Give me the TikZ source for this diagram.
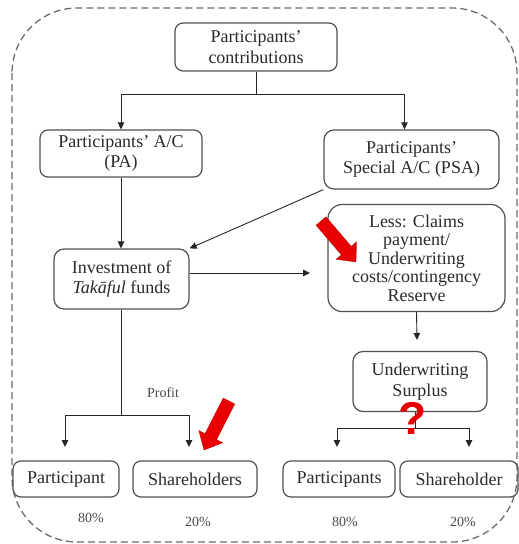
\documentclass[tikz,border=0pt]{standalone}
\usepackage{fontspec}
\setmainfont{Liberation Serif}
\newfontfamily\qfont{Liberation Sans}
\usetikzlibrary{arrows.meta}
\definecolor{boxline}{HTML}{505050}
\definecolor{txt}{HTML}{2A2A2A}
\definecolor{alert}{HTML}{E80000}
\tikzset{
  x=1pt, y=-1pt,
  flowbox/.style={draw=boxline, line width=1.2pt, rounded corners=8pt,
    align=center, text=txt, inner sep=2pt,
    font=\fontsize{18}{20.5}\selectfont},
  link/.style={draw=black!85, line width=0.9pt},
  arr/.style={link, -{Triangle[length=7pt,width=6.5pt]}},
  note/.style={text=txt!85, font=\fontsize{14}{15}\selectfont},
  pointer/.style={fill=alert, draw=alert!80!black, line width=0.3pt},
}
\begin{document}
\begin{tikzpicture}
\useasboundingbox (0,0) rectangle (519,544);

% dashed frame around the whole scheme
\draw[gray!85!black, line width=1.3pt, dash pattern=on 7pt off 4pt, rounded corners=65pt]
  (12,8) rectangle (517,542);

% boxes
\node[flowbox, minimum width=162pt, minimum height=48pt] (contrib) at (256,47)
  {Participants'\\contributions};
\node[flowbox, minimum width=162pt, minimum height=47pt] (pa) at (121,153.5)
  {Participants' A/C\\(PA)};
\node[flowbox, minimum width=175pt, minimum height=59pt, rounded corners=10pt] (psa) at (411.5,159.5)
  {Participants'\\Special A/C (PSA)};
\node[flowbox, minimum width=135pt, minimum height=60pt, rounded corners=10pt] (inv) at (121.5,279)
  {Investment of\\\textit{Takāful} funds};
\node[flowbox, minimum width=177pt, minimum height=107pt, rounded corners=14pt,
  font=\fontsize{18}{18.5}\selectfont] (claims) at (416.5,258)
  {Less: Claims\\payment/\\Underwriting\\costs/contingency\\Reserve};
\node[flowbox, minimum width=134pt, minimum height=60pt, rounded corners=10pt] (surplus) at (420,381.5)
  {Underwriting\\Surplus};
\node[flowbox, minimum width=106pt, minimum height=36pt] (part1) at (66,479) {Participant};
\node[flowbox, minimum width=124pt, minimum height=36pt] (share1) at (195,479) {Shareholders};
\node[flowbox, minimum width=112pt, minimum height=36pt] (part2) at (339,479) {Participants};
\node[flowbox, minimum width=118pt, minimum height=36pt] (share2) at (459,479) {Shareholder};

% junctions and free arrow ends
\coordinate (j1) at (256,94);
\coordinate (c1) at (310,273);
\coordinate (c2) at (417,340);
\coordinate (j2) at (121.5,415);
\coordinate (t1) at (65,447);
\coordinate (t2) at (189,447);
\coordinate (j3) at (415,428);
\coordinate (t3) at (337,447);
\coordinate (t4) at (469,447);

% connectors
\draw[link] (contrib.south) -- (j1);
\draw[arr] (j1) -| (pa.north);
\draw[arr] (j1) -| ([xshift=-7pt]psa.north);
\draw[arr] (pa.south) -- (pa.south |- inv.north);
\draw[arr] (psa.south west) -- (inv.north east);
\draw[arr] (inv.east |- c1) -- (c1);
\draw[arr] (claims.south) -- (c2);
\draw[link] (inv.south) -- (j2);
\draw[arr] (j2) -| (t1);
\draw[arr] (j2) -| (t2);
\draw[link] (surplus.south -| j3) -- (j3);
\draw[arr] (j3) -| (t3);
\draw[arr] (j3) -| (t4);

% labels
\node[note] (profit) at (163,393) {Profit};
\node[note] (p1) at (91,518) {80\%};
\node[note] (p2) at (198,522) {20\%};
\node[note] (p3) at (345,522) {80\%};
\node[note] (p4) at (463,522) {20\%};

% red pointers
\fill[pointer] (316.05,225.22) -- (325.95,216.78) -- (351.21,246.37) -- (356.53,241.83)
  -- (356,262) -- (335.99,259.35) -- (341.31,254.81) -- cycle;
\fill[pointer] (234.79,403.95) -- (223.21,398.05) -- (205.02,433.68) -- (198.78,430.50)
  -- (204,450) -- (222.84,442.76) -- (216.60,439.58) -- cycle;
\node[text=alert, font=\qfont\bfseries\fontsize{46}{46}\selectfont, inner sep=0pt] (qmark) at (413,418) {?};
\end{tikzpicture}
\end{document}
